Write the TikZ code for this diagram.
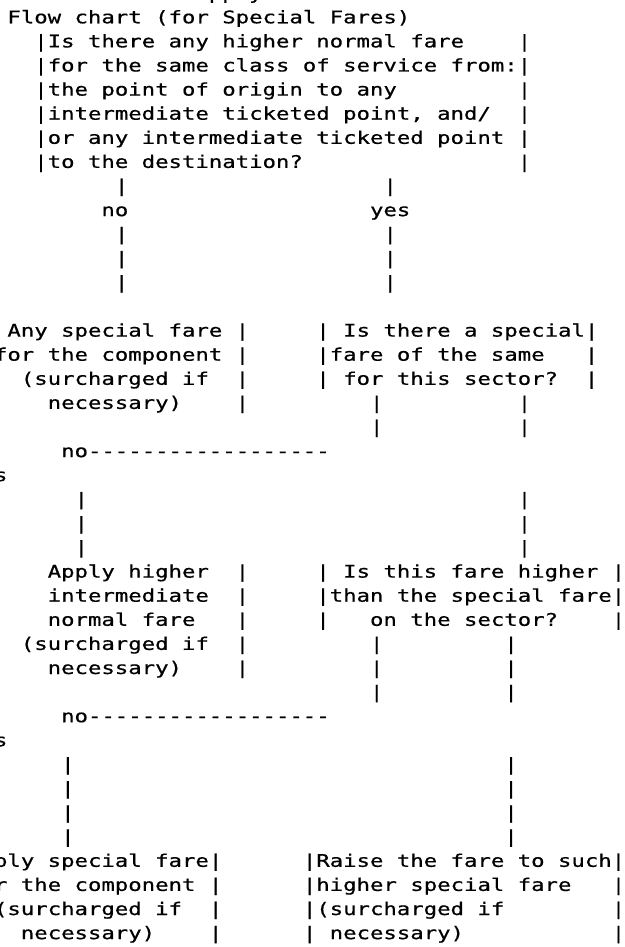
\documentclass[tikz,border=0pt]{standalone}
\usepackage{fontspec}
\setmonofont[FakeStretch=1.282,FakeBold=0.6]{DejaVu Sans Mono}
\def\cw{13.43}\def\xo{7.43}\def\lh{24.1}\def\bo{-0.8}
\tikzset{txt/.style={font=\ttfamily\fontsize{17.4}{20}\selectfont, inner sep=0pt, outer sep=0pt, anchor=base west, text=black}}
\newcommand\seg[4]{\node[txt] (#1) at ({\xo+(#3)*\cw},{-(\bo+(#2)*\lh)}) {#4};}
\begin{document}
\begin{tikzpicture}[x=1pt,y=1pt]
\useasboundingbox (0,0) rectangle (624,-947);
\clip (0,0) rectangle (624,-947);
\fill[white] (0,0) rectangle (624,-947);
\seg{l0}{0}{14}{Apply}
\seg{l1}{1}{0}{Flow chart (for Special Fares)}
\seg{l2a}{2}{2}{|Is there any higher normal fare}
\seg{l2b}{2}{38}{|}
\seg{l3}{3}{2}{|for the same class of service from:|}
\seg{l4a}{4}{2}{|the point of origin to any}
\seg{l4b}{4}{38}{|}
\seg{l5a}{5}{2}{|intermediate ticketed point, and/}
\seg{l5b}{5}{38}{|}
\seg{l6}{6}{2}{|or any intermediate ticketed point |}
\seg{l7a}{7}{2}{|to the destination?}
\seg{l7b}{7}{38}{|}
\seg{l8a}{8}{8}{|}\seg{l8b}{8}{28}{|}
\seg{l9a}{9}{7}{no}\seg{l9b}{9}{27}{yes}
\seg{l10a}{10}{8}{|}\seg{l10b}{10}{28}{|}
\seg{l11a}{11}{8}{|}\seg{l11b}{11}{28}{|}
\seg{l12a}{12}{8}{|}\seg{l12b}{12}{28}{|}
\seg{l14a}{14}{0}{Any special fare |}
\seg{l14b}{14}{23}{| Is there a special|}
\seg{l15a}{15}{-1}{for the component |}
\seg{l15b}{15}{23}{|fare of the same}
\seg{l15c}{15}{43}{|}
\seg{l16a}{16}{1}{(surcharged if}
\seg{l16b}{16}{17}{|}
\seg{l16c}{16}{23}{| for this sector?}
\seg{l16d}{16}{43}{|}
\seg{l17a}{17}{3}{necessary)}
\seg{l17b}{17}{17}{|}
\seg{l17c}{17}{27}{|}
\seg{l17d}{17}{38}{|}
\seg{l18a}{18}{27}{|}\seg{l18b}{18}{38}{|}
\seg{l19}{19}{4}{no------------------}
\seg{l20}{20}{-1}{s}
\seg{l21a}{21}{5}{|}\seg{l21b}{21}{38}{|}
\seg{l22a}{22}{5}{|}\seg{l22b}{22}{38}{|}
\seg{l23a}{23}{5}{|}\seg{l23b}{23}{38}{|}
\seg{l24a}{24}{3}{Apply higher}
\seg{l24b}{24}{17}{|}
\seg{l24c}{24}{23}{| Is this fare higher |}
\seg{l25a}{25}{3}{intermediate}
\seg{l25b}{25}{17}{|}
\seg{l25c}{25}{23}{|than the special fare|}
\seg{l26a}{26}{3}{normal fare}
\seg{l26b}{26}{17}{|}
\seg{l26c}{26}{23}{|}
\seg{l26d}{26}{27}{on the sector?}
\seg{l26e}{26}{45}{|}
\seg{l27a}{27}{1}{(surcharged if}
\seg{l27b}{27}{17}{|}
\seg{l27c}{27}{27}{|}
\seg{l27d}{27}{37}{|}
\seg{l28a}{28}{3}{necessary)}
\seg{l28b}{28}{17}{|}
\seg{l28c}{28}{27}{|}
\seg{l28d}{28}{37}{|}
\seg{l29a}{29}{27}{|}\seg{l29b}{29}{37}{|}
\seg{l30}{30}{4}{no------------------}
\seg{l31}{31}{-1}{s}
\seg{l32a}{32}{4}{|}\seg{l32b}{32}{37}{|}
\seg{l33a}{33}{4}{|}\seg{l33b}{33}{37}{|}
\seg{l34a}{34}{4}{|}\seg{l34b}{34}{37}{|}
\seg{l35a}{35}{4}{|}\seg{l35b}{35}{37}{|}
\seg{l36a}{36}{-1}{ply special fare|}
\seg{l36b}{36}{22}{|Raise the fare to such|}
\seg{l37a}{37}{-1}{r the component |}
\seg{l37b}{37}{22}{|higher special fare}
\seg{l37c}{37}{45}{|}
\seg{l38a}{38}{-1}{(surcharged if}
\seg{l38b}{38}{15}{|}
\seg{l38c}{38}{22}{|(surcharged if}
\seg{l38d}{38}{45}{|}
\seg{l39a}{39}{1}{necessary)}
\seg{l39b}{39}{15}{|}
\seg{l39c}{39}{22}{| necessary)}
\seg{l39d}{39}{45}{|}
\end{tikzpicture}
\end{document}
